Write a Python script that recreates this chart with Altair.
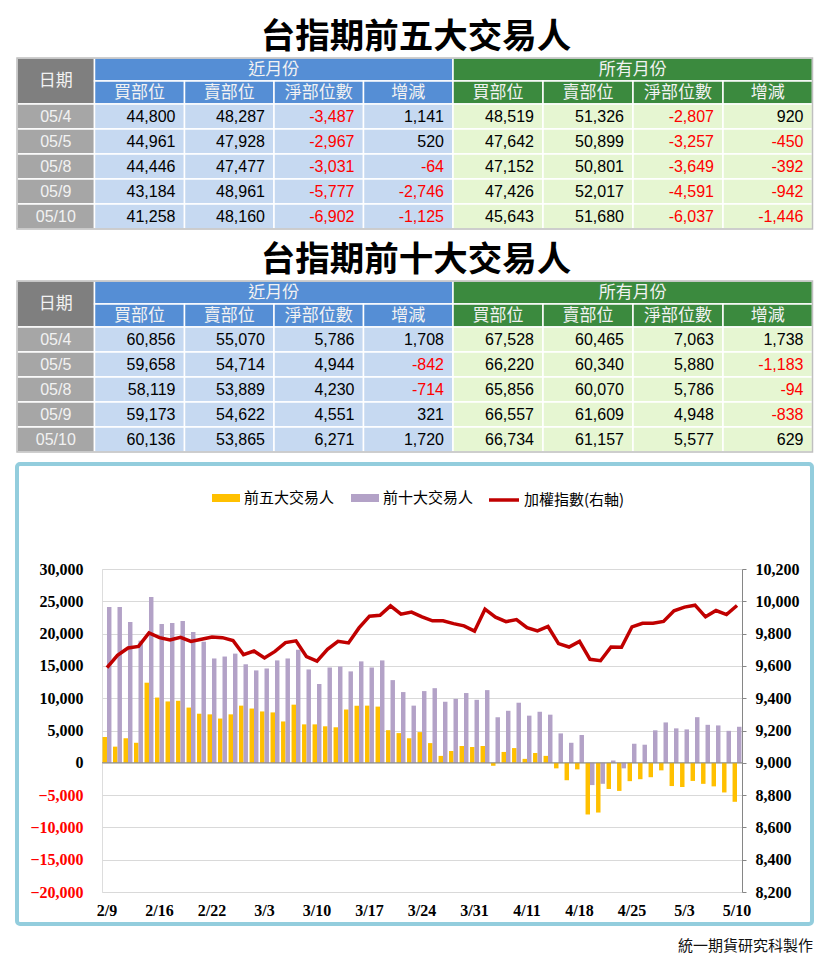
import altair as alt
import pandas as pd

# ---------------- data ----------------
DATES = ["2/9", "2/10", "2/13", "2/14", "2/15", "2/16", "2/17", "2/18", "2/20", "2/21",
         "2/22", "2/23", "2/24", "3/1", "3/2", "3/3", "3/6", "3/7", "3/8", "3/9",
         "3/10", "3/13", "3/14", "3/15", "3/16", "3/17", "3/20", "3/21", "3/22", "3/23",
         "3/24", "3/27", "3/28", "3/29", "3/30", "3/31", "4/3", "4/6", "4/7", "4/10",
         "4/11", "4/12", "4/13", "4/14", "4/17", "4/18", "4/19", "4/20", "4/21", "4/24",
         "4/25", "4/26", "4/27", "4/28", "5/2", "5/3", "5/4", "5/5", "5/8", "5/9",
         "5/10"]
AXIS_DATES = ["2/9", "2/16", "2/22", "3/3", "3/10", "3/17", "3/24", "3/31",
              "4/11", "4/18", "4/25", "5/3", "5/10"]
TOP5 = [4000, 2500, 3800, 3100, 12400, 10100, 9500, 9600, 8550, 7600,
        7500, 6850, 7500, 8850, 8400, 7950, 7800, 6400, 9000, 5950,
        5950, 5650, 5500, 8250, 8850, 8850, 8700, 5050, 4600, 3800,
        4750, 3050, 1070, 1830, 2600, 2450, 2600, -460, 1680, 2280,
        610, 1520, 1070, -860, -2700, -1020, -8000, -7700, -4050, -4350,
        -2840, -2540, -2230, -1170, -3600, -3750, -2807, -3257, -3649, -4591,
        -6037]
TOP10 = [24100, 24100, 21800, 18900, 25650, 21500, 21650, 21950, 20250, 18750,
         16150, 16450, 16900, 15250, 14300, 14600, 15850, 16150, 17500, 14450,
         12200, 14750, 14900, 14150, 15700, 14750, 15850, 12800, 10950, 8850,
         11100, 11550, 9450, 9900, 10800, 9750, 11250, 7050, 8050, 9300,
         7300, 7900, 7450, 4550, 3100, 4300, -3450, -3250, 350, -860,
         2950, 2800, 5030, 6250, 5330, 5170, 7063, 5880, 5786, 4948,
         5577]
INDEX = [9589, 9665, 9711, 9721, 9804, 9775, 9761, 9777, 9752, 9765,
         9779, 9775, 9757, 9670, 9692, 9649, 9690, 9744, 9755, 9657,
         9630, 9703, 9752, 9742, 9835, 9908, 9914, 9972, 9920, 9933,
         9904, 9879, 9879, 9862, 9848, 9815, 9951, 9902, 9874, 9887,
         9837, 9817, 9844, 9738, 9717, 9752, 9641, 9632, 9717, 9715,
         9842, 9864, 9864, 9875, 9941, 9964, 9976, 9904, 9943, 9918,
         9974]
SERIES = ["前五大交易人", "前十大交易人"]
LINE_NAME = "加權指數(右軸)"
FOOTER = "統一期貨研究科製作"

TITLES = ["台指期前五大交易人", "台指期前十大交易人"]
GROUPS = ["近月份", "所有月份"]
SUBHEADS = ["買部位", "賣部位", "淨部位數", "增減"]
DATE_HEAD = "日期"
TABLE_DATES = ["05/4", "05/5", "05/8", "05/9", "05/10"]

T5_NEAR_BUY = [44800, 44961, 44446, 43184, 41258]
T5_NEAR_SELL = [48287, 47928, 47477, 48961, 48160]
T5_NEAR_NET = [-3487, -2967, -3031, -5777, -6902]
T5_NEAR_CHG = [1141, 520, -64, -2746, -1125]
T5_ALL_BUY = [48519, 47642, 47152, 47426, 45643]
T5_ALL_SELL = [51326, 50899, 50801, 52017, 51680]
T5_ALL_NET = [-2807, -3257, -3649, -4591, -6037]
T5_ALL_CHG = [920, -450, -392, -942, -1446]

T10_NEAR_BUY = [60856, 59658, 58119, 59173, 60136]
T10_NEAR_SELL = [55070, 54714, 53889, 54622, 53865]
T10_NEAR_NET = [5786, 4944, 4230, 4551, 6271]
T10_NEAR_CHG = [1708, -842, -714, 321, 1720]
T10_ALL_BUY = [67528, 66220, 65856, 66557, 66734]
T10_ALL_SELL = [60465, 60340, 60070, 61609, 61157]
T10_ALL_NET = [7063, 5880, 5786, 4948, 5577]
T10_ALL_CHG = [1738, -1183, -94, -838, 629]

# ---------------- layout / style ----------------
PLOT_X0 = 102      # page x of the chart plot area (shared origin of both panels)
PAGE_Y0 = 8
PLOT_W, PLOT_H = 640, 323
TABLES_H = 445
COL_EDGES = [17, 94.5, 184.5, 274, 363.5, 453, 543, 633, 723, 812.5]
ROW_EDGES = [58, 81, 104, 129, 154, 179, 204, 229]
TABLE_SHIFT = 223
TITLE_Y = [38, 261]
TITLE_X = 416

HEAD_GRAY = "#7f7f7f"
DATE_GRAY = "#a6a6a6"
BLUE = "#558ed5"
GREEN = "#3b8a3e"
LIGHTS = ["#c6d9f1", "#e6f6d2"]
HEADS = [BLUE, GREEN]
RED = "#ff0000"

YELLOW = "#ffc000"
PURPLE = "#b3a2c7"
LINE_RED = "#c00000"
PANEL_BLUE = "#93cddd"
GRID = "#d9d9d9"
AXIS_GRAY = "#868686"
SERIF = "Liberation Serif"
CJK = "Noto Sans CJK TC"
NUMF = "Liberation Sans, Noto Sans CJK TC"

# ---------------- table data frames ----------------
tables_vals = [
    [[T5_NEAR_BUY, T5_NEAR_SELL, T5_NEAR_NET, T5_NEAR_CHG],
     [T5_ALL_BUY, T5_ALL_SELL, T5_ALL_NET, T5_ALL_CHG]],
    [[T10_NEAR_BUY, T10_NEAR_SELL, T10_NEAR_NET, T10_NEAR_CHG],
     [T10_ALL_BUY, T10_ALL_SELL, T10_ALL_NET, T10_ALL_CHG]],
]

rects, borders, ctext, rtext, titles = [], [], [], [], []
C = COL_EDGES
for t in range(2):
    R = [r + t * TABLE_SHIFT for r in ROW_EDGES]
    titles.append(dict(x=TITLE_X, y=TITLE_Y[t], t=TITLES[t]))
    borders.append(dict(x1=C[0], x2=C[9], y1=R[0], y2=R[7]))
    rects.append(dict(x1=C[0], x2=C[1], y1=R[0], y2=R[2], fill=HEAD_GRAY))
    ctext.append(dict(x=(C[0] + C[1]) / 2, y=(R[0] + R[2]) / 2, t=DATE_HEAD,
                      col="#f2f2f2", fs=17))
    for g in range(2):
        a, b = C[1 + 4 * g], C[5 + 4 * g]
        rects.append(dict(x1=a, x2=b, y1=R[0], y2=R[1], fill=HEADS[g]))
        ctext.append(dict(x=(a + b) / 2, y=(R[0] + R[1]) / 2, t=GROUPS[g],
                          col="#f2f2f2", fs=17))
        for j in range(4):
            a, b = C[1 + 4 * g + j], C[2 + 4 * g + j]
            rects.append(dict(x1=a, x2=b, y1=R[1], y2=R[2], fill=HEADS[g]))
            ctext.append(dict(x=(a + b) / 2, y=(R[1] + R[2]) / 2, t=SUBHEADS[j],
                              col="#f2f2f2", fs=17))
    for i in range(5):
        y1, y2 = R[2 + i], R[3 + i]
        rects.append(dict(x1=C[0], x2=C[1], y1=y1, y2=y2, fill=DATE_GRAY))
        ctext.append(dict(x=(C[0] + C[1]) / 2, y=(y1 + y2) / 2, t=TABLE_DATES[i],
                          col="#f2f2f2", fs=16))
        for g in range(2):
            for j in range(4):
                v = tables_vals[t][g][j][i]
                a, b = C[1 + 4 * g + j], C[2 + 4 * g + j]
                rects.append(dict(x1=a, x2=b, y1=y1, y2=y2, fill=LIGHTS[g]))
                rtext.append(dict(x=b, y=(y1 + y2) / 2, t=f"{v:,}",
                                  col=RED if v < 0 else "#000000", fs=16))

sx = alt.Scale(domain=[PLOT_X0, PLOT_X0 + PLOT_W], range=[0, PLOT_W], nice=False, zero=False)
sy = alt.Scale(domain=[PAGE_Y0, PAGE_Y0 + TABLES_H], range=[0, TABLES_H], nice=False, zero=False)


def X(f):
    return alt.X(f, scale=sx, axis=None)


def Y(f):
    return alt.Y(f, scale=sy, axis=None)


anchor_t = alt.Chart(pd.DataFrame([dict(x1=8, x2=10, y1=8, y2=10)])).mark_rect(
    opacity=0, fill="white").encode(x=X("x1:Q"), x2="x2:Q", y=Y("y1:Q"), y2="y2:Q")

cells = alt.Chart(pd.DataFrame(rects)).mark_rect(stroke="white", strokeWidth=1.5).encode(
    x=X("x1:Q"), x2="x2:Q", y=Y("y1:Q"), y2="y2:Q",
    fill=alt.Fill("fill:N", scale=None))

frame = alt.Chart(pd.DataFrame(borders)).mark_rect(
    fillOpacity=0, stroke="#bfbfbf", strokeWidth=1.5).encode(
    x=X("x1:Q"), x2="x2:Q", y=Y("y1:Q"), y2="y2:Q")

center_text = alt.Chart(pd.DataFrame(ctext)).mark_text(
    align="center", baseline="middle", font=NUMF).encode(
    x=X("x:Q"), y=Y("y:Q"), text="t:N",
    color=alt.Color("col:N", scale=None), size=alt.Size("fs:Q", scale=None))

right_text = alt.Chart(pd.DataFrame(rtext)).mark_text(
    align="right", baseline="middle", font=NUMF, dx=-9).encode(
    x=X("x:Q"), y=Y("y:Q"), text="t:N",
    color=alt.Color("col:N", scale=None), size=alt.Size("fs:Q", scale=None))

title_text = alt.Chart(pd.DataFrame(titles)).mark_text(
    align="center", baseline="middle", font=CJK, fontSize=34.5, fontWeight="bold",
    color="#000000").encode(x=X("x:Q"), y=Y("y:Q"), text="t:N")

tables = alt.layer(anchor_t, cells, frame, center_text, right_text, title_text).properties(
    width=PLOT_W, height=TABLES_H,
    view=alt.ViewBackground(stroke="transparent", strokeWidth=0))

# ---------------- combo chart ----------------
bar_df = pd.DataFrame({
    "date": DATES * 2,
    "series": [SERIES[0]] * len(DATES) + [SERIES[1]] * len(DATES),
    "value": TOP5 + TOP10,
})
line_df = pd.DataFrame({"date": DATES, "idx": INDEX, "name": [LINE_NAME] * len(DATES)})
one = pd.DataFrame({"k": [0]})

x_enc = alt.X("date:N", sort=DATES,
              scale=alt.Scale(domain=DATES, paddingInner=0.15, paddingOuter=0.05),
              axis=alt.Axis(values=AXIS_DATES, labelAngle=0, ticks=False, domain=False,
                            labelFont=SERIF, labelFontWeight="bold", labelFontSize=16,
                            labelColor="#000000", labelPadding=10, title=None))

left_scale = alt.Scale(domain=[-20000, 30000], nice=False, zero=False)
left_axis = alt.Axis(values=list(range(-20000, 30001, 5000)), format=",d", grid=True,
                     gridColor=GRID, gridWidth=1, ticks=False, domain=False,
                     labelPadding=19, labelFont=SERIF, labelFontWeight="bold",
                     labelFontSize=16,
                     labelColor=alt.ExprRef(expr="datum.value < 0 ? '#ff0000' : '#000000'"),
                     title=None)

bars = alt.Chart(bar_df).mark_bar().encode(
    x=x_enc,
    xOffset=alt.XOffset("series:N", sort=SERIES, scale=alt.Scale(domain=SERIES)),
    y=alt.Y("value:Q", scale=left_scale, axis=left_axis),
    color=alt.Color("series:N", sort=SERIES,
                    scale=alt.Scale(domain=SERIES, range=[YELLOW, PURPLE]),
                    legend=alt.Legend(orient="none", legendX=110, legendY=-85,
                                      direction="horizontal", title=None,
                                      symbolType="M-1,-0.2857L1,-0.2857L1,0.2857L-1,0.2857Z",
                                      symbolSize=784, symbolStrokeWidth=0,
                                      labelFont=CJK, labelFontSize=15, labelColor="#000000",
                                      labelOffset=4, columnPadding=16, labelLimit=0)),
)

zero_rule = alt.Chart(pd.DataFrame({"value": [0]})).mark_rule(
    color=AXIS_GRAY, strokeWidth=1).encode(
    y=alt.Y("value:Q", scale=left_scale, axis=left_axis))

panel = alt.Chart(one).mark_rect(
    fillOpacity=0, stroke=PANEL_BLUE, strokeWidth=4, cornerRadius=3).encode(
    x=alt.value(-85), x2=alt.value(710), y=alt.value(-105), y2=alt.value(355))

anchor_b = alt.Chart(one).mark_rect(opacity=0, fill="white").encode(
    x=alt.value(-40), x2=alt.value(-38), y=alt.value(-110), y2=alt.value(-108))

footer = alt.Chart(one).mark_text(
    align="right", baseline="middle", font=CJK, fontSize=15, color="#111111").encode(
    x=alt.value(711), y=alt.value(377), text=alt.value(FOOTER))

left_layer = alt.layer(anchor_b, panel, bars, zero_rule, footer)

line = alt.Chart(line_df).mark_line(strokeWidth=3.5).encode(
    x=x_enc,
    y=alt.Y("idx:Q", scale=alt.Scale(domain=[8200, 10200], nice=False, zero=False),
            axis=alt.Axis(orient="right", values=list(range(8200, 10201, 200)), format=",d",
                          grid=False, domain=True, domainColor=AXIS_GRAY, ticks=True,
                          tickColor=AXIS_GRAY, tickSize=4, labelPadding=9,
                          labelFont=SERIF, labelFontWeight="bold", labelFontSize=16,
                          labelColor="#000000", title=None)),
    stroke=alt.Stroke("name:N", scale=alt.Scale(domain=[LINE_NAME], range=[LINE_RED]),
                      legend=alt.Legend(orient="none", legendX=385, legendY=-86,
                                        title=None, symbolType="stroke", symbolSize=900,
                                        symbolStrokeWidth=3.5, labelFont=CJK,
                                        labelFontSize=15, labelColor="#000000",
                                        labelOffset=3, labelLimit=0)),
)

combo = alt.layer(left_layer, line).resolve_scale(y="independent").properties(
    width=PLOT_W, height=PLOT_H)

chart = alt.vconcat(tables, combo, spacing=5).resolve_scale(
    color="independent", stroke="independent", fill="independent", size="independent"
).resolve_legend(color="independent", stroke="independent").properties(
    padding=0, background="white"
).configure_view(stroke=GRID).configure(font=CJK)

chart.save("out.html", embed_options={"renderer": "svg", "actions": False})
